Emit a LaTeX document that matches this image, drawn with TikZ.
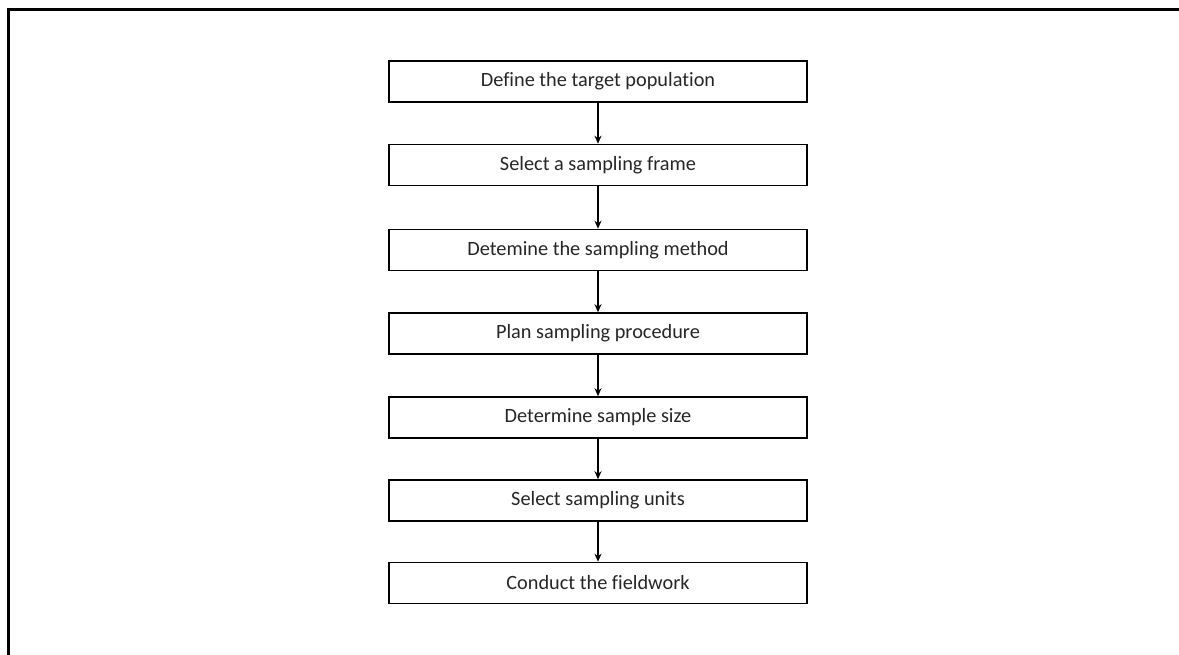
\documentclass[tikz,border=0pt]{standalone}
\usepackage{fontspec}
\setmainfont[Ligatures=NoCommon]{Carlito}
\usetikzlibrary{arrows.meta}
\begin{document}
\begin{tikzpicture}[x=1pt,y=-1pt,
  stepbox/.style={draw=black,line width=1.6pt,minimum width=418pt,minimum height=41pt,inner sep=0pt,font=\fontsize{20.3}{24}\selectfont,text=black!85},
  flow/.style={line width=1.3pt,-{Stealth[length=8pt,width=7pt]}}]
\useasboundingbox (0,0) rectangle (1179,655);
\draw[line width=2.6pt] (8.5,655) -- (8.5,9.5) -- (1179,9.5);
\node[stepbox] (s1) at (598,81.5) {Define the target population};
\node[stepbox] (s2) at (598,165) {Select a sampling frame};
\node[stepbox] (s3) at (598,250) {Detemine the sampling method};
\node[stepbox] (s4) at (598,333.5) {Plan sampling procedure};
\node[stepbox] (s5) at (598,417.5) {Determine sample size};
\node[stepbox] (s6) at (598,500.5) {Select sampling units};
\node[stepbox] (s7) at (598,583) {Conduct the fieldwork};
\foreach \a/\b in {s1/s2,s2/s3,s3/s4,s4/s5,s5/s6,s6/s7}
  \draw[flow] (\a.south) -- (\b.north);
\end{tikzpicture}
\end{document}
